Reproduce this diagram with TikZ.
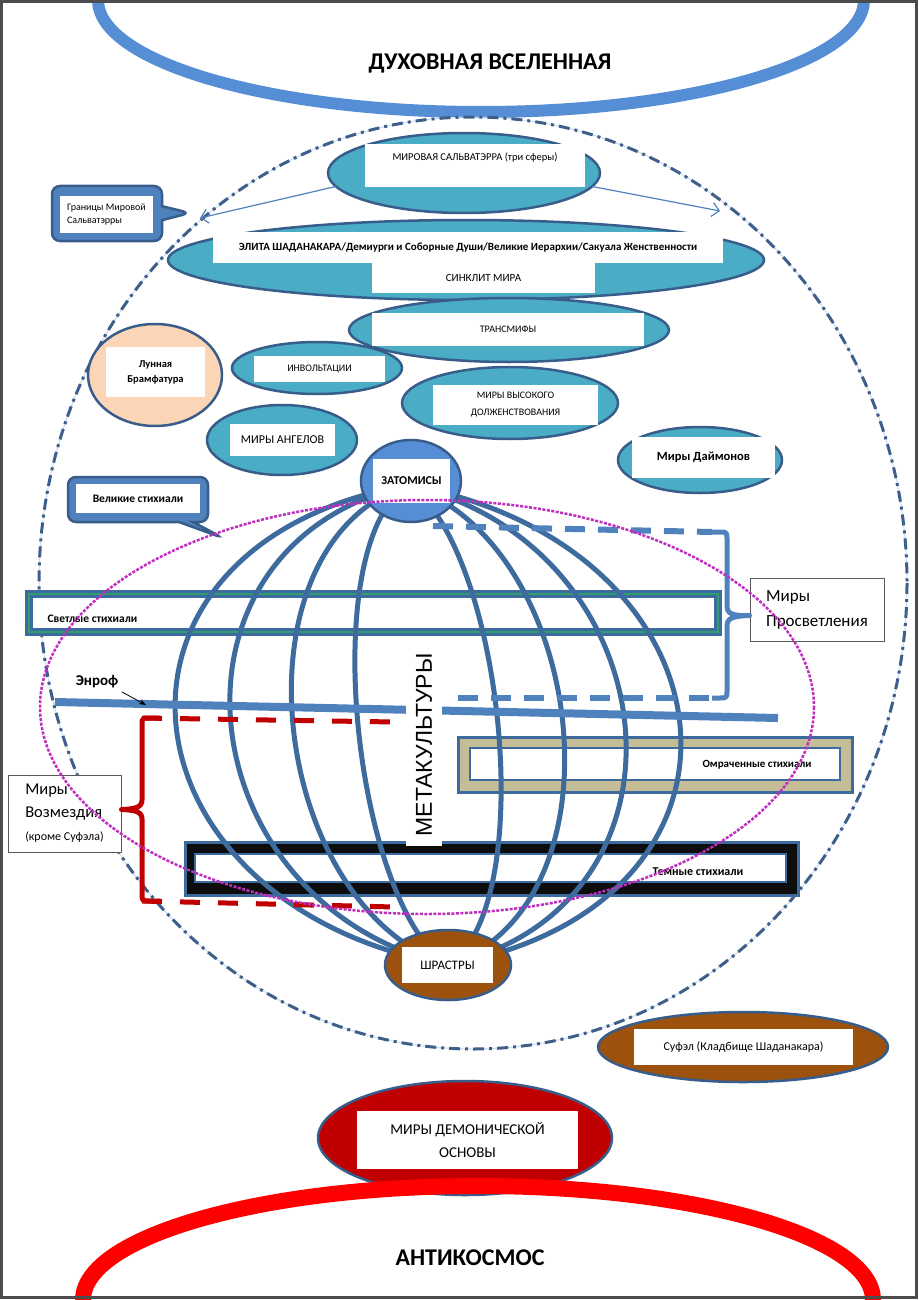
\documentclass[tikz,border=0pt]{standalone}
\usepackage{fontspec}
\setmainfont{Carlito}
\newfontfamily\metafont{Liberation Sans}
\usetikzlibrary{arrows.meta,shapes.geometric,shapes.callouts}
\definecolor{tealfill}{HTML}{4BACC6}
\definecolor{edgeblue}{HTML}{385D8A}
\definecolor{skyblue}{HTML}{558ED5}
\definecolor{lineblue}{HTML}{4F81BD}
\definecolor{meridblue}{HTML}{3E6B9E}
\definecolor{peach}{HTML}{FBD5B5}
\definecolor{brownfill}{HTML}{9C520C}
\definecolor{demonred}{HTML}{C00000}
\definecolor{tanfill}{HTML}{C4BD97}
\definecolor{bandgreen}{HTML}{2E9E6E}
\definecolor{dotmagenta}{HTML}{C02EC0}
\definecolor{boundblue}{HTML}{3E5F8A}
\definecolor{boundlight}{HTML}{C6D9F1}
\newcommand{\sz}[2]{\fontsize{#1}{#2}\selectfont}

\begin{document}
\begin{tikzpicture}[x=1pt, y=-1pt,
    world/.style={ellipse, draw=edgeblue, line width=2.5, fill=tealfill, inner sep=0, outer sep=0},
    panel/.style={rectangle, fill=white, inner sep=2, outer sep=0, align=center},
    callbox/.style={rectangle callout, fill=lineblue, draw=edgeblue, line width=2.5, rounded corners=8, callout pointer width=14},
    labelbox/.style={rectangle, fill=white, draw=gray!70!black, line width=1, align=left, inner sep=4},
    meridian/.style={draw=meridblue, line width=5},
    bluedash/.style={draw=lineblue, line width=6, dash pattern=on 20pt off 13pt},
    reddash/.style={draw=demonred, line width=5, dash pattern=on 20pt off 18pt},
    bluebrace/.style={draw=lineblue, line width=5, line join=round},
    redbrace/.style={draw=demonred, line width=5, line join=round},
    boundary/.style={draw=boundblue, line width=3, dash pattern=on 11pt off 5pt on 3pt off 5pt}
  ]
  \useasboundingbox (0,0) rectangle (918,1300);
  \clip (0,0) rectangle (918,1300);

  % spiritual universe and the boundary of the world Salvaterra
  \draw[line width=12, draw=skyblue] (481,0) ellipse [x radius=383, y radius=112];
  \node[font=\bfseries\sz{24}{28}] (spirit) at (490,63) {ДУХОВНАЯ ВСЕЛЕННАЯ};
  \draw[draw=boundlight, line width=1] (473,583) ellipse [x radius=434, y radius=466];
  \draw[boundary] (473,583) ellipse [x radius=434, y radius=466];

  \node[world, minimum width=272, minimum height=80] (salv) at (464,173) {};
  \node[panel, minimum width=220, text height=7, text depth=18, inner ysep=9, font=\sz{10.5}{12}] (salvtxt) at (475,166) {МИРОВАЯ САЛЬВАТЭРРА (три сферы)};
  \coordinate (edgeL) at (200,218);
  \coordinate (edgeR) at (720,211);
  \draw[-{Straight Barb[length=7pt]}, draw=lineblue, line width=1.2] (salv.186) -- (edgeL);
  \draw[-{Straight Barb[length=7pt]}, draw=lineblue, line width=1.2] (salv.354) -- (edgeR);

  \node[callbox, minimum width=110, minimum height=55, callout absolute pointer={(190,213)}] (bounds) at (107,213.5) {};
  \node[panel, minimum width=93, minimum height=37, align=left, font=\sz{10}{13}] (boundstxt) at (106.5,214.5) {Границы Мировой\\Сальватэрры};

  \node[world, minimum width=596, minimum height=80] (elite) at (466,260) {};
  \node[panel, minimum width=510, minimum height=31, font=\bfseries\sz{11}{13}] (elitetxt) at (468,247.5) {ЭЛИТА ШАДАНАКАРА/Демиурги и Соборные Души/Великие Иерархии/Сакуала Женственности};
  \node[panel, minimum width=223, minimum height=30, font=\sz{11}{13}] (synclit) at (483.5,278) {СИНКЛИТ МИРА};

  \node[world, minimum width=320, minimum height=64] (transmyth) at (509,330) {};
  \node[panel, minimum width=272, minimum height=33, font=\sz{10}{12}] (transmythtxt) at (508,329) {ТРАНСМИФЫ};

  \node[world, fill=peach, minimum width=134, minimum height=102] (moon) at (155,375) {};
  \node[panel, minimum width=99, minimum height=50, font=\bfseries\sz{10.5}{15}] (moontxt) at (155.5,372) {Лунная\\Брамфатура};

  \node[world, minimum width=170, minimum height=52] (involt) at (317,368) {};
  \node[panel, minimum width=131, minimum height=26, font=\sz{10}{12}] (involttxt) at (319.5,369) {ИНВОЛЬТАЦИИ};

  \node[world, minimum width=216, minimum height=72] (duty) at (510,403) {};
  \node[panel, minimum width=165, minimum height=40, font=\sz{10}{17}] (dutytxt) at (515.5,405) {МИРЫ ВЫСОКОГО\\ДОЛЖЕНСТВОВАНИЯ};

  \node[world, minimum width=150, minimum height=70] (angels) at (282,440) {};
  \node[panel, minimum width=105, minimum height=32, font=\sz{12}{14}] (angelstxt) at (282.5,440) {МИРЫ АНГЕЛОВ};

  \node[world, minimum width=164, minimum height=66] (daimons) at (700,460) {};
  \node[panel, minimum width=143, minimum height=41, font=\bfseries\sz{12.5}{15}] (daimonstxt) at (703.5,457.5) {Миры Даймонов};

  \node[callbox, minimum width=140, minimum height=45, callout absolute pointer={(223,538)}] (elemcall) at (138,499.5) {};
  \node[panel, minimum width=124, minimum height=29, font=\bfseries\sz{11.5}{13}] (elemtxt) at (138,498.5) {Великие стихиали};

  % elemental bands
  \node[rectangle, fill=white, draw=meridblue, double=bandgreen, double distance=2.5, line width=3, minimum width=689, minimum height=38] (lightband) at (373.5,613) {};
  \node[anchor=west, font=\bfseries\sz{11.5}{13}] (lighttxt) at (44,619) {Светлые стихиали};
  \node[rectangle, fill=tanfill, draw=meridblue, line width=3, minimum width=394, minimum height=55] (dimband) at (655,764.5) {};
  \node[rectangle, fill=white, draw=meridblue, line width=2.5, minimum width=370, minimum height=32] (dimbandin) at (655,764) {};
  \node[font=\bfseries\sz{11}{13}] (dimtxt) at (757,765) {Омраченные стихиали};
  \node[rectangle, fill=black!95, draw=meridblue, line width=3, minimum width=613, minimum height=53] (darkband) at (491.5,868.5) {};
  \node[rectangle, fill=white, draw=meridblue, line width=2, minimum width=591, minimum height=28] (darkbandin) at (490.5,868) {};
  \node[font=\bfseries\sz{12}{14}] (darktxt) at (698,872) {Темные стихиали};

  % globe of metacultures
  \coordinate (globetop) at (408,485);
  \coordinate (globebot) at (448,965);
  \foreach \o in {-252,-197,-135,-70,70,135,197,252}
    \draw[meridian] (globetop) .. controls +({\o/0.75},60) and +({\o/0.75},-60) .. (globebot);

  \draw[draw=lineblue, line width=8] (55,702) -- (778,718);
  \node[font=\bfseries\sz{15}{17}] (enroftxt) at (97,682) {Энроф};
  \coordinate (enrofpt) at (146,705);
  \draw[-{Stealth[length=7pt]}, line width=0.8] (enroftxt.south east) -- (enrofpt);

  \node[labelbox, minimum width=134, minimum height=63, font=\sz{17}{25}] (prosv) at (817,609.5) {Миры\\Просветления};
  \draw[bluedash] (433,526) -- (712,532);
  \draw[bluedash] (458,698) -- (712,698);
  \draw[bluebrace] (712,532) -- (719,532) .. controls (727,532) .. (727,540) -- (727,606)
    .. controls (727,614) and (733,616) .. ([yshift=-6]prosv.west)
    .. controls (733,616) and (727,618) .. (727,626) -- (727,690) .. controls (727,698) .. (719,698) -- (712,698);

  \node[labelbox, minimum width=113, minimum height=77, inner sep=2, font=\sz{16.5}{23}] (vozm) at (64.5,813.5) {Миры\\Возмездия\\{\sz{12}{16}(кроме Суфэла)}};
  \draw[reddash] (142,718) -- (395,722);
  \draw[reddash] (142,901) -- (395,907);
  \draw[redbrace] (160,718) -- (150,718) .. controls (142,718) .. (142,726) -- (142,800)
    .. controls (142,807) and (136,809) .. ([yshift=4]vozm.east)
    .. controls (136,810) and (142,812) .. (142,819) -- (142,893) .. controls (142,901) .. (150,901) -- (160,901);

  \node[rotate=90, fill=white, inner sep=10, font=\metafont\sz{23}{26}] (meta) at (424,745) {МЕТАКУЛЬТУРЫ};

  \node[world, fill=skyblue, minimum width=100, minimum height=82] (zatomis) at (411,481) {};
  \node[panel, minimum width=77, minimum height=44, font=\bfseries\sz{12}{14}] (zatomistxt) at (411.5,481) {ЗАТОМИСЫ};
  \node[world, fill=brownfill, minimum width=126, minimum height=70] (shrastr) at (448,965) {};
  \node[panel, minimum width=91, minimum height=36, font=\sz{13}{15}] (shrastrtxt) at (447.5,965) {ШРАСТРЫ};

  % lower worlds
  \node[world, fill=brownfill, minimum width=290, minimum height=70] (sufel) at (743,1047) {};
  \node[panel, minimum width=219, minimum height=36, font=\sz{12}{14}] (sufeltxt) at (743.5,1047) {Суфэл (Кладбище Шаданакара)};
  \node[world, fill=demonred, minimum width=294, minimum height=114] (demon) at (465,1138) {};
  \node[panel, minimum width=221, minimum height=58, font=\sz{15}{23}] (demontxt) at (467.5,1140) {МИРЫ ДЕМОНИЧЕСКОЙ\\ОСНОВЫ};
  \draw[line width=16, draw=red] (478,1300) ellipse [x radius=395, y radius=114];
  \node[font=\bfseries\sz{24}{28}] (anticosmos) at (470,1258) {АНТИКОСМОС};

  \draw[draw=dotmagenta, line width=2.5, dash pattern=on 3pt off 1.5pt] (427,707) ellipse [x radius=387, y radius=207];
  \draw[draw=gray!60!black, line width=3] (1.5,1.5) rectangle (916.5,1297.5);
\end{tikzpicture}
\end{document}
